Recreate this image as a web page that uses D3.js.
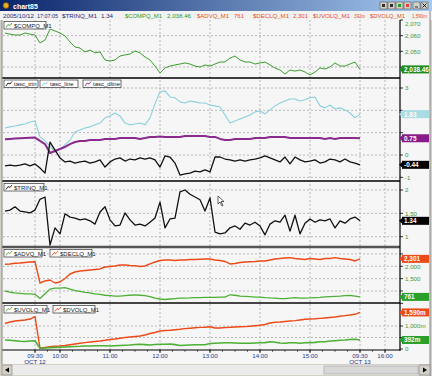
<!DOCTYPE html>
<html><head><meta charset="utf-8">
<script src="https://cdn.jsdelivr.net/npm/d3@7"></script>
<style>body{margin:0;background:#d4d0c8}svg{display:block}text{font-family:"Liberation Sans",Arial,sans-serif}</style>
</head><body><svg id="c" width="432" height="376"></svg>
<script>
// ---- data: samples every 6 minutes from t=-36 (09:30 = 0) to t=390 ----
const tStart = -36, tStep = 6;
const compq = [2061.7,2061,2060.4,2060.4,2061.7,2061,2060.4,2055.3,2057.2,2064.2,2063,2061.7,2059.8,2056,2052.8,2052.1,2049.6,2050.8,2049,2049.6,2044.5,2043.8,2044.5,2047,2047.7,2048.3,2050.2,2049,2046.4,2044.5,2040.6,2036.2,2039.4,2040.6,2041.3,2041.9,2042.6,2041.9,2040.6,2040,2041.3,2040.6,2041.9,2043.2,2043.2,2045.7,2047,2044.5,2043.2,2043.2,2041.9,2042.6,2043.2,2041.3,2039.4,2038.1,2035.5,2038.1,2037.4,2038.1,2036.8,2034.9,2036.8,2039.4,2038.7,2040,2042.6,2040.6,2040.6,2041.9,2043.2,2038.46];
const tascLine = [1.21,1.26,1.30,1.35,1.39,1.48,1.52,0.81,0.63,0.40,0.13,0.27,0.45,0.67,1.03,1.12,1.21,1.26,1.35,1.43,1.66,1.75,1.88,1.75,1.43,1.35,1.39,1.43,1.35,1.66,2.29,2.83,2.87,2.60,2.56,2.38,2.33,2.42,2.38,2.33,2.33,2.24,2.20,2.15,1.79,1.43,1.52,1.61,1.70,1.79,1.93,1.97,1.84,2.02,2.20,2.33,2.42,2.51,2.51,2.42,2.47,2.56,2.60,2.20,2.11,2.24,2.06,2.11,2.02,1.88,1.66,1.83];
const tascDline = [0.70,0.72,0.74,0.75,0.76,0.77,0.78,0.63,0.49,0.09,0.18,0.27,0.36,0.49,0.58,0.63,0.63,0.67,0.67,0.67,0.72,0.72,0.72,0.76,0.76,0.76,0.76,0.72,0.76,0.81,0.81,0.83,0.81,0.81,0.81,0.81,0.85,0.85,0.85,0.85,0.85,0.81,0.81,0.72,0.67,0.67,0.72,0.72,0.72,0.72,0.76,0.76,0.76,0.81,0.81,0.81,0.81,0.76,0.76,0.76,0.76,0.76,0.76,0.76,0.72,0.76,0.72,0.76,0.76,0.76,0.76,0.75];
const tascTrin = [-0.49,-0.45,-0.49,-0.45,-0.40,-0.49,-0.40,-0.58,-0.81,0.58,0.22,-0.13,-0.31,-0.27,-0.36,-0.31,-0.27,-0.36,-0.31,-0.22,-0.54,-0.31,-0.18,-0.13,-0.27,-0.18,-0.22,-0.13,-0.18,-0.13,-0.22,-0.54,-0.04,-0.09,-0.36,-0.90,-0.85,-0.81,-0.72,-0.76,-0.67,-0.76,-0.09,-0.09,-0.18,-0.22,-0.27,-0.22,-0.27,-0.22,-0.18,-0.13,-0.04,-0.13,-0.22,-0.31,-0.09,-0.40,-0.09,-0.22,-0.31,-0.27,-0.22,-0.36,-0.31,-0.18,-0.22,-0.31,-0.18,-0.31,-0.36,-0.44];
const trinq = [1.55,1.57,1.64,1.55,1.53,1.51,1.57,1.80,1.85,0.82,1.19,1.06,1.49,1.42,1.40,1.36,1.38,1.34,1.27,1.53,1.64,1.36,1.23,1.25,1.51,1.36,1.25,1.27,1.23,1.31,1.40,1.74,1.19,1.38,1.40,1.96,2.00,1.91,1.85,1.79,1.55,1.83,1.10,1.06,1.08,1.19,1.23,1.16,1.29,1.25,1.31,1.23,1.04,1.27,1.34,1.31,1.46,1.12,1.46,1.06,1.29,1.38,1.31,1.36,1.34,1.38,1.19,1.34,1.29,1.38,1.42,1.34];
const advq = [1000,950,924,905,885,885,866,695,885,1076,1115,1115,1134,1076,1019,981,943,924,885,866,828,809,790,790,809,828,847,828,809,771,714,676,656,676,695,714,714,721,733,733,740,744,744,752,752,847,828,790,782,771,752,752,733,721,714,695,695,714,733,714,714,721,733,740,759,771,782,790,809,820,790,761];
const declq = [2082,2095,2122,2135,2155,2175,2187,1324,1406,1446,1324,1365,1506,1689,1770,1810,1830,1851,1872,1892,1972,1993,2013,2053,2053,2033,2025,1993,2013,2095,2175,2236,2256,2256,2236,2256,2256,2276,2276,2285,2296,2296,2256,2236,2195,2095,2115,2155,2175,2187,2195,2216,2216,2256,2296,2316,2338,2349,2316,2296,2276,2316,2296,2276,2316,2316,2349,2316,2296,2276,2216,2301];
const uvolq = [391,378,361,335,326,348,361,30,43,57,70,78,87,100,109,117,130,130,139,143,139,130,143,152,161,174,196,204,191,174,196,204,209,217,191,152,165,174,183,183,183,239,248,261,270,274,261,248,252,248,261,270,278,313,296,261,252,274,270,252,270,278,287,313,317,348,361,378,391,413,422,392];
const dvolq = [1109,1174,1217,1239,1261,1304,1413,30,65,100,117,130,152,187,217,248,278,304,326,348,378,413,435,470,500,522,543,565,609,674,717,783,804,817,835,857,887,904,922,939,948,965,913,913,935,943,957,965,974,991,1009,1030,1065,1130,1161,1174,1196,1217,1235,1261,1291,1304,1313,1330,1348,1370,1391,1422,1452,1478,1509,1590];
const timeTicks = [0,30,90,150,210,270,330,390,420];
const timeLabels = [["09:30","OCT 12"],["10:00",""],["11:00",""],["12:00",""],["13:00",""],["14:00",""],["15:00",""],["09:30","OCT 13"],["16:00",""]];
const headerItems = [["2005/10/12",3,31,"#1a2a7a"],["17:07:05",37,21,"#1a2a7a"],["$TRINQ_M1",62,35,"#1a2a7a"],["1.34",101,12,"#1a2a7a"],["$COMPQ_M1",125,37,"#2a9a2a"],["2,038.46",167,24,"#2a9a2a"],["$ADVQ_M1",197,32,"#e8501e"],["761",234,10,"#e8501e"],["$DECLQ_M1",253,36,"#e8501e"],["2,301",293,15,"#e8501e"],["$UVOLQ_M1",313,37,"#e8501e"],["392m",354,11,"#e8501e"],["$DVOLQ_M1",370,35,"#e8501e"],["1,590m",412,15,"#e8501e"]];

const svg = d3.select("#c");
const X0 = 3, X1 = 400;
const x = d3.scaleLinear().domain([-38.4, 438]).range([X0, X1]);
const tOf = i => tStart + i * tStep;

// window chrome
svg.append("rect").attr("width",432).attr("height",376).attr("fill","#d4d0c8");
const g = svg.append("defs").append("linearGradient").attr("id","tb");
g.append("stop").attr("offset","0").attr("stop-color","#0a246a");
g.append("stop").attr("offset","1").attr("stop-color","#a6caf0");
svg.append("rect").attr("x",0).attr("y",0).attr("width",432).attr("height",11).attr("fill","url(#tb)");
svg.append("circle").attr("cx",6).attr("cy",5.5).attr("r",3).attr("fill","#e8b020").attr("stroke","#604010").attr("stroke-width",0.8);
svg.append("text").attr("x",13).attr("y",8.5).attr("fill","#fff").attr("font-size",7).attr("font-weight","bold").text("chart85");
[380,388,396,404].forEach((bx,k)=>{
  svg.append("rect").attr("x",bx).attr("y",2).attr("width",7).attr("height",7).attr("fill","#d4d0c8").attr("stroke","#404040").attr("stroke-width",0.5);
  svg.append("rect").attr("x",bx+2).attr("y",4).attr("width",3).attr("height",3).attr("fill",["#303030","#303030","#20a020","#e04040"][k]);
});
[413].forEach(bx=>{
  svg.append("rect").attr("x",bx).attr("y",2).attr("width",7).attr("height",7).attr("fill","#d4d0c8").attr("stroke","#404040").attr("stroke-width",0.5);
  svg.append("line").attr("x1",bx+2).attr("x2",bx+5).attr("y1",7).attr("y2",7).attr("stroke","#000").attr("stroke-width",0.8);
});
svg.append("rect").attr("x",421).attr("y",2).attr("width",7).attr("height",7).attr("fill","#d4d0c8").attr("stroke","#404040").attr("stroke-width",0.5);
svg.append("path").attr("d","M422.5,3.5 L426.5,7.5 M426.5,3.5 L422.5,7.5").attr("stroke","#000").attr("stroke-width",0.9);
// header bar
svg.append("rect").attr("x",0).attr("y",11).attr("width",432).attr("height",9).attr("fill","#f2f2f2");
headerItems.forEach(h=>svg.append("text").attr("x",h[1]).attr("y",17.5).attr("font-size",6.2).attr("fill",h[3])
  .attr("textLength",h[2]).attr("lengthAdjust","spacingAndGlyphs").text(h[0]));

// plot backgrounds
svg.append("rect").attr("x",2).attr("y",20).attr("width",428).attr("height",344).attr("fill","#f6f6f6");

// panels
const panels = [
  {top:20,bot:78,y:d3.scaleLinear().domain([2040,2070]).range([67,20]),ticks:[2040,2050,2060,2070],fmt:d3.format(",")},
  {top:79,bot:180,y:d3.scaleLinear().domain([0,3]).range([155,88]),ticks:[-1,0,1,2,3],fmt:d=>String(d)},
  {top:182,bot:246,y:d3.scaleLinear().domain([1,2]).range([236.7,190]),ticks:[1,1.5,2],fmt:d=>d===1.5?"1.50":String(d)},
  {top:248,bot:302,y:d3.scaleLinear().domain([1000,2000]).range([291,266.3]),ticks:[500,1000,1500,2000,2500],fmt:d3.format(",")},
  {top:304,bot:350,y:d3.scaleLinear().domain([0,1000]).range([349,326]),ticks:[0,500,1000],fmt:d=>d===0?"0":d3.format(",")(d)+"m"}
];
const series = [
  {p:0,data:compq,color:"#3c9e2e",w:1,txt:"2,038.46",bf:"#1f8a1f"},
  {p:1,data:tascLine,color:"#8ad0dc",w:1.1,txt:"1.83",bf:"#a9dce4"},
  {p:1,data:tascDline,color:"#8a2a8e",w:2,txt:"0.75",bf:"#8a1a8a"},
  {p:1,data:tascTrin,color:"#111",w:1.3,txt:"-0.44",bf:"#000"},
  {p:2,data:trinq,color:"#111",w:1.3,txt:"1.34",bf:"#000"},
  {p:3,data:declq,color:"#ec4a18",w:1.4,txt:"2,301",bf:"#ec4a18"},
  {p:3,data:advq,color:"#4cb034",w:1.3,txt:"761",bf:"#2aa02a"},
  {p:4,data:dvolq,color:"#ec4a18",w:1.4,txt:"1,590m",bf:"#ec4a18"},
  {p:4,data:uvolq,color:"#4cb034",w:1.6,txt:"392m",bf:"#2aa02a"}
];
const badgeYs = series.map(s=>panels[s.p].y(s.data[s.data.length-1]));

// vertical gridlines
timeTicks.forEach(t=>{
  svg.append("line").attr("x1",x(t)).attr("x2",x(t)).attr("y1",20).attr("y2",350)
    .attr("stroke","#a8a8a8").attr("stroke-width",0.8).attr("stroke-dasharray","2,2");
});

panels.forEach(p=>{
  p.ticks.forEach(v=>{
    const yy = p.y(v);
    if (yy>p.top+1 && yy<p.bot-1) svg.append("line").attr("x1",X0).attr("x2",X1).attr("y1",yy).attr("y2",yy)
      .attr("stroke","#a8a8a8").attr("stroke-width",0.8).attr("stroke-dasharray","2,2");
    svg.append("line").attr("x1",X1).attr("x2",X1+3).attr("y1",yy).attr("y2",yy).attr("stroke","#000").attr("stroke-width",0.8);
    if (badgeYs.every(b=>Math.abs(b-yy)>6.5))
      svg.append("text").attr("x",X1+5).attr("y",Math.max(yy+2.3,25.5)).attr("font-size",6.2).attr("fill","#3d9a3d").text(p.fmt(v));
  });
});

const line = (p, arr) => d3.line().x((d,i)=>x(tOf(i))).y(d=>p.y(d))(arr);
series.forEach(s=>{
  svg.append("path").attr("d",line(panels[s.p],s.data)).attr("fill","none").attr("stroke",s.color)
    .attr("stroke-width",s.w).attr("stroke-linejoin","round");
});

// separators and axis line
[[78,1.5,"#000"],[181,1.5,"#000"],[247,2.5,"#555"],[303,2,"#444"],[350,1.2,"#000"]].forEach(s=>{
  svg.append("line").attr("x1",2).attr("x2",X1).attr("y1",s[0]).attr("y2",s[0]).attr("stroke",s[2]).attr("stroke-width",s[1]);
});
svg.append("line").attr("x1",X1).attr("x2",X1).attr("y1",20).attr("y2",351).attr("stroke","#000").attr("stroke-width",1.2);
svg.append("line").attr("x1",2).attr("x2",2).attr("y1",20).attr("y2",364).attr("stroke","#888").attr("stroke-width",1);
svg.append("line").attr("x1",430).attr("x2",430).attr("y1",11).attr("y2",376).attr("stroke","#888").attr("stroke-width",1);

// badges
series.forEach((s,k)=>{
  const yy = badgeYs[k];
  svg.append("path").attr("d",`M${X1-1},${yy} L${X1+2},${yy-2.5} L${X1+2},${yy+2.5}Z`).attr("fill",s.bf);
  svg.append("rect").attr("x",X1+2).attr("y",yy-4).attr("width",27).attr("height",8).attr("fill",s.bf);
  svg.append("text").attr("x",X1+4).attr("y",yy+2.4).attr("font-size",6.4).attr("font-weight","bold").attr("fill","#fff").text(s.txt);
});

// legends
function legend(lx, ly, w, label, color){
  svg.append("rect").attr("x",lx).attr("y",ly).attr("width",w).attr("height",7.5).attr("fill","#fff").attr("stroke","#333").attr("stroke-width",0.7);
  svg.append("path").attr("d",`M${lx+2},${ly+6} L${lx+4},${ly+3} L${lx+6},${ly+4} L${lx+8},${ly+1.5}`).attr("fill","none").attr("stroke",color).attr("stroke-width",0.9);
  svg.append("text").attr("x",lx+10).attr("y",ly+6.2).attr("font-size",6).attr("fill","#222").text(label);
}
legend(4,21.5,42,"$COMPQ_M1","#3c9e2e");
legend(4,80,34,"tasc_trin","#111");
legend(40,80,38,"tasc_line","#8ad0dc");
legend(83,80,38,"tasc_dline","#8a2a8e");
legend(4,183.5,40,"$TRINQ_M1","#111");
legend(4,249.5,38,"$ADVQ_M1","#4cb034");
legend(50,249.5,42,"$DECLQ_M1","#ec4a18");
legend(4,305.5,43,"$UVOLQ_M1","#4cb034");
legend(53,305.5,42,"$DVOLQ_M1","#ec4a18");

// cursor in TRIN panel
svg.append("path").attr("d","M218,196 L218,204 L220,202 L222,206 L223,205.5 L221,201.5 L224,201.5Z").attr("fill","#fff").attr("stroke","#000").attr("stroke-width",0.6);

// x axis
timeTicks.forEach((t,k)=>{
  svg.append("line").attr("x1",x(t)).attr("x2",x(t)).attr("y1",350).attr("y2",353).attr("stroke","#000").attr("stroke-width",0.8);
  svg.append("text").attr("x",x(t)).attr("y",358).attr("text-anchor","middle").attr("font-size",6.2).attr("fill","#2a3a8a").text(timeLabels[k][0]);
  if (timeLabels[k][1]) svg.append("text").attr("x",x(t)).attr("y",364).attr("text-anchor","middle").attr("font-size",6.2).attr("fill","#2a3a8a").text(timeLabels[k][1]);
});
d3.range(0,421,15).forEach(t=>{
  svg.append("line").attr("x1",x(t)).attr("x2",x(t)).attr("y1",350).attr("y2",351.8).attr("stroke","#000").attr("stroke-width",0.6);
});

// scrollbar
svg.append("rect").attr("x",2).attr("y",365).attr("width",428).attr("height",10).attr("fill","#ebebeb");
svg.append("rect").attr("x",2).attr("y",365).attr("width",10).attr("height",10).attr("fill","#d4d0c8").attr("stroke","#808080").attr("stroke-width",0.6);
svg.append("path").attr("d","M5,370 L9,367.5 L9,372.5Z").attr("fill","#000");
svg.append("rect").attr("x",324).attr("y",366).attr("width",94).attr("height",8).attr("fill","#d8d8d8").attr("stroke","#a0a0a0").attr("stroke-width",0.6);
svg.append("rect").attr("x",419).attr("y",365).attr("width",11).attr("height",10).attr("fill","#d4d0c8").attr("stroke","#808080").attr("stroke-width",0.6);
svg.append("path").attr("d","M427,370 L423,367.5 L423,372.5Z").attr("fill","#000");
</script></body></html>
